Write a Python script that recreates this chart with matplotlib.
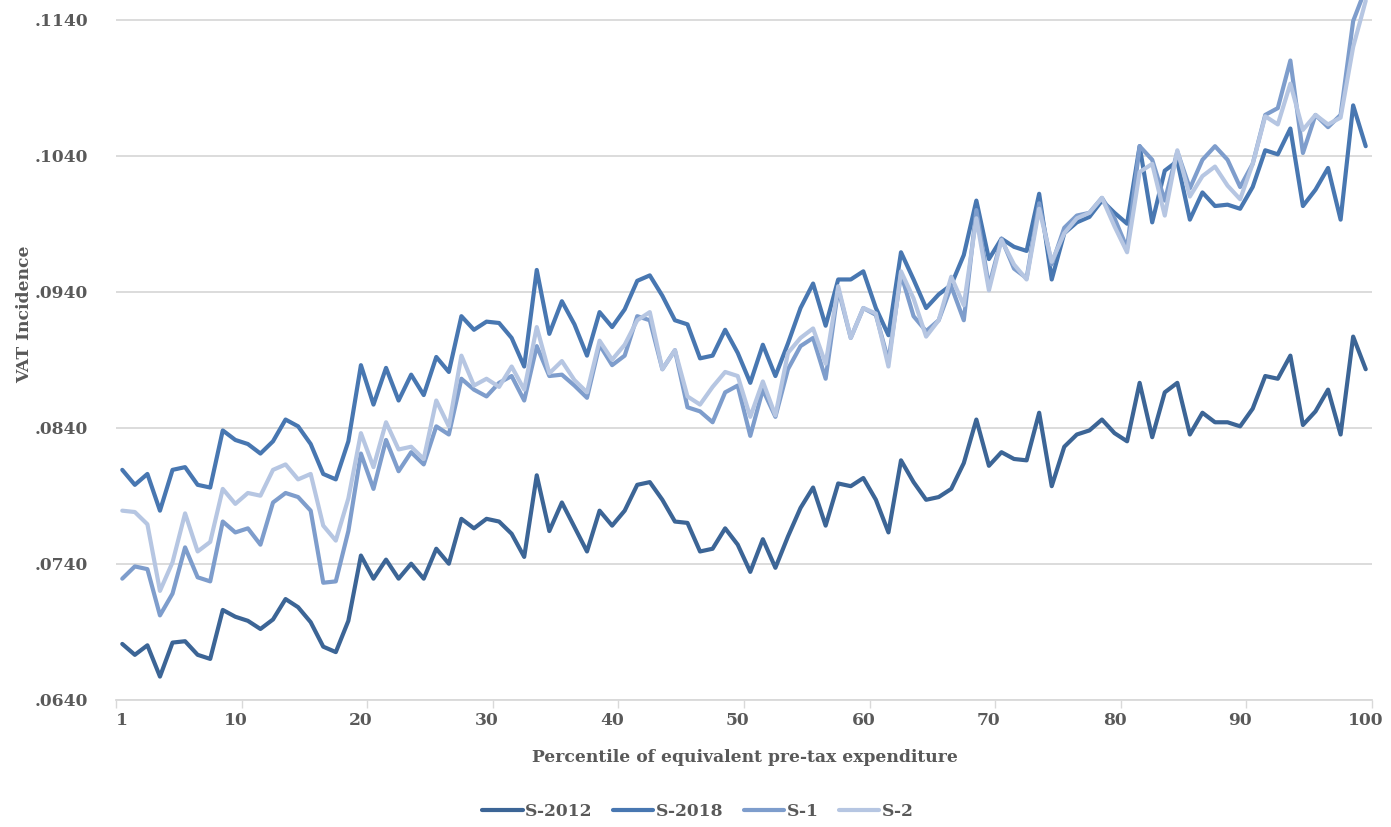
import matplotlib
matplotlib.use("Agg")
import matplotlib.pyplot as plt
import numpy as np

percentiles = list(range(1, 101))

s2012 = [
    0.0681, 0.0673, 0.0680, 0.0657, 0.0682, 0.0683, 0.0673, 0.0670, 0.0706, 0.0701,
    0.0698, 0.0692, 0.0699, 0.0714, 0.0708, 0.0697, 0.0679, 0.0675, 0.0698, 0.0746,
    0.0729, 0.0743, 0.0729, 0.0740, 0.0729, 0.0751, 0.0740, 0.0773, 0.0766, 0.0773,
    0.0771, 0.0762, 0.0745, 0.0805, 0.0764, 0.0785, 0.0767, 0.0749, 0.0779, 0.0768,
    0.0779, 0.0798, 0.0800, 0.0787, 0.0771, 0.0770, 0.0749, 0.0751, 0.0766, 0.0754,
    0.0734, 0.0758, 0.0737, 0.0760, 0.0781, 0.0796, 0.0768, 0.0799, 0.0797, 0.0803,
    0.0787, 0.0763, 0.0816, 0.0800, 0.0787, 0.0789, 0.0795, 0.0814, 0.0846, 0.0812,
    0.0822, 0.0817, 0.0816, 0.0851, 0.0797, 0.0826, 0.0835, 0.0838, 0.0846, 0.0836,
    0.0830, 0.0873, 0.0833, 0.0866, 0.0873, 0.0835, 0.0851, 0.0844, 0.0844, 0.0841,
    0.0854, 0.0878, 0.0876, 0.0893, 0.0842, 0.0852, 0.0868, 0.0835, 0.0907, 0.0883,
]

s2018 = [
    0.0809, 0.0798, 0.0806, 0.0779, 0.0809, 0.0811, 0.0798, 0.0796, 0.0838, 0.0831,
    0.0828, 0.0821, 0.0830, 0.0846, 0.0841, 0.0828, 0.0806, 0.0802, 0.0830, 0.0886,
    0.0857, 0.0884, 0.0860, 0.0879, 0.0864, 0.0892, 0.0881, 0.0922, 0.0912, 0.0918,
    0.0917, 0.0906, 0.0885, 0.0956, 0.0909, 0.0933, 0.0916, 0.0893, 0.0925, 0.0914,
    0.0927, 0.0948, 0.0952, 0.0937, 0.0919, 0.0916, 0.0891, 0.0893, 0.0912, 0.0895,
    0.0873, 0.0901, 0.0878, 0.0902, 0.0928, 0.0946, 0.0915, 0.0949, 0.0949, 0.0955,
    0.0928, 0.0908, 0.0969, 0.0949, 0.0928, 0.0938, 0.0945, 0.0967, 0.1007, 0.0964,
    0.0979, 0.0973, 0.0970, 0.1012, 0.0949, 0.0983, 0.0991, 0.0995, 0.1007, 0.0998,
    0.0990, 0.1047, 0.0991, 0.1029, 0.1036, 0.0993, 0.1013, 0.1003, 0.1004, 0.1001,
    0.1017, 0.1044, 0.1041, 0.1060, 0.1003, 0.1015, 0.1031, 0.0993, 0.1077, 0.1047,
]

s1 = [
    0.0729, 0.0738, 0.0736, 0.0702, 0.0718, 0.0752, 0.0730, 0.0727, 0.0771, 0.0763,
    0.0766, 0.0754, 0.0785, 0.0792, 0.0789, 0.0779, 0.0726, 0.0727, 0.0764, 0.0821,
    0.0795, 0.0831, 0.0808, 0.0822, 0.0813, 0.0841, 0.0835, 0.0876, 0.0868, 0.0863,
    0.0873, 0.0878, 0.0860, 0.0900, 0.0878, 0.0879, 0.0871, 0.0862, 0.0901, 0.0886,
    0.0893, 0.0922, 0.0919, 0.0883, 0.0897, 0.0855, 0.0852, 0.0844, 0.0866, 0.0871,
    0.0834, 0.0868, 0.0848, 0.0883, 0.0900, 0.0906, 0.0876, 0.0942, 0.0906, 0.0928,
    0.0923, 0.0889, 0.0953, 0.0922, 0.0911, 0.0919, 0.0944, 0.0919, 0.1000, 0.0944,
    0.0979, 0.0957, 0.0950, 0.1005, 0.0960, 0.0987, 0.0996, 0.0998, 0.1009, 0.0994,
    0.0972, 0.1047, 0.1037, 0.1007, 0.1043, 0.1016, 0.1037, 0.1047, 0.1037, 0.1017,
    0.1034, 0.1070, 0.1075, 0.1110, 0.1042, 0.1070, 0.1061, 0.1070, 0.1139, 0.1163,
]

s2 = [
    0.0779, 0.0778, 0.0769, 0.0720, 0.0741, 0.0777, 0.0749, 0.0756, 0.0795, 0.0784,
    0.0792, 0.0790, 0.0809, 0.0813, 0.0802, 0.0806, 0.0768, 0.0757, 0.0788, 0.0836,
    0.0811, 0.0844, 0.0824, 0.0826, 0.0817, 0.0860, 0.0841, 0.0893, 0.0871, 0.0876,
    0.0870, 0.0885, 0.0868, 0.0914, 0.0880, 0.0889, 0.0875, 0.0866, 0.0904, 0.0890,
    0.0901, 0.0919, 0.0925, 0.0883, 0.0897, 0.0863, 0.0857, 0.0870, 0.0881, 0.0878,
    0.0848, 0.0874, 0.0849, 0.0895, 0.0906, 0.0913, 0.0887, 0.0944, 0.0906, 0.0928,
    0.0924, 0.0885, 0.0955, 0.0935, 0.0907, 0.0919, 0.0951, 0.0930, 0.0994, 0.0941,
    0.0978, 0.0960, 0.0949, 0.1001, 0.0962, 0.0983, 0.0994, 0.0998, 0.1009, 0.0988,
    0.0969, 0.1028, 0.1034, 0.0996, 0.1044, 0.1010, 0.1025, 0.1032, 0.1018, 0.1008,
    0.1034, 0.1069, 0.1063, 0.1093, 0.1059, 0.1070, 0.1063, 0.1068, 0.1120, 0.1154,
]

series_names = ["S-2012", "S-2018", "S-1", "S-2"]
series_colors = ["#3c6596", "#4877b1", "#7e9dcc", "#b6c6e2"]

y_ticks = [0.0640, 0.0740, 0.0840, 0.0940, 0.1040, 0.1140]
y_tick_labels = [".0640", ".0740", ".0840", ".0940", ".1040", ".1140"]
x_label_pos = [1, 10, 20, 30, 40, 50, 60, 70, 80, 90, 100]

TEXT = "#595959"
GRID = "#d9d9d9"
FONT = "DejaVu Serif"

W, H = 1391, 827
fig = plt.figure(figsize=(W / 100, H / 100), dpi=100)
ax = fig.add_axes([116 / W, (H - 699.7) / H, 1256 / W, 699.7 / H])

for vals, name, col in zip([s2012, s2018, s1, s2], series_names, series_colors):
    ax.plot(percentiles, vals, color=col, lw=3.0, label=name,
            solid_joinstyle="round", solid_capstyle="round", zorder=3)

ax.set_xlim(0.5, 100.5)
ax.set_ylim(0.0640, 0.11545)

ax.set_yticks(y_ticks)
ax.set_yticklabels(y_tick_labels)
ax.yaxis.grid(True, color=GRID, lw=1.3, zorder=0)
ax.tick_params(axis="y", length=0, pad=20, labelsize=12.3, labelcolor=TEXT)

# tick marks between categories, labels on the categories
ax.set_xticks(np.arange(0.5, 101, 10))
ax.set_xticklabels([])
ax.tick_params(axis="x", which="major", length=6, width=1.0, color=GRID, direction="out")
ax.set_xticks(x_label_pos, minor=True)
ax.set_xticklabels([str(v) for v in x_label_pos], minor=True)
ax.tick_params(axis="x", which="minor", length=0, pad=9, labelsize=12.3, labelcolor=TEXT)

for lbl in ax.get_xticklabels(minor=True) + ax.get_yticklabels():
    lbl.set_fontfamily(FONT)
    lbl.set_fontweight("bold")

for side in ["top", "right", "left"]:
    ax.spines[side].set_visible(False)
ax.spines["bottom"].set_color(GRID)
ax.spines["bottom"].set_linewidth(1.3)

fig.text(745 / W, 1 - 758 / H, "Percentile of equivalent pre-tax expenditure",
         ha="center", va="center", fontsize=12.3, fontweight="bold",
         family=FONT, color=TEXT)
fig.text(25 / W, 1 - 314 / H, "VAT Incidence", rotation=90,
         ha="center", va="center", fontsize=12.3, fontweight="bold",
         family=FONT, color=TEXT)

leg = fig.legend(loc="center", bbox_to_anchor=(698 / W, 1 - 811 / H), ncol=4,
                 frameon=False, handlelength=2.35, handletextpad=0.15,
                 columnspacing=1.2, prop={"family": FONT, "weight": "bold", "size": 12.3})
for t in leg.get_texts():
    t.set_color(TEXT)

fig.savefig("out.png", dpi=100)
